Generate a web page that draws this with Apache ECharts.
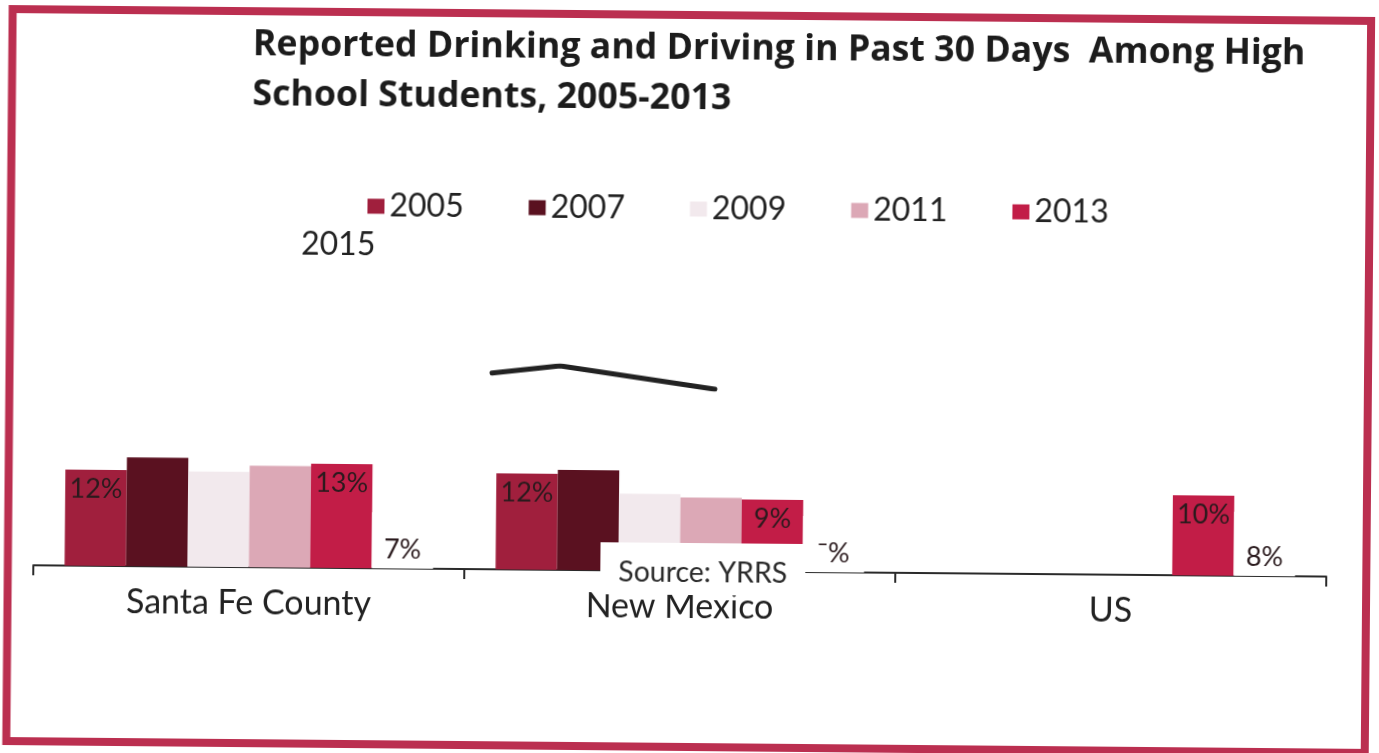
<!DOCTYPE html>
<html>
<head>
<meta charset="utf-8">
<script src="https://cdn.jsdelivr.net/npm/echarts@6/dist/echarts.min.js"></script>
<style>
  html, body { margin: 0; padding: 0; background: #ffffff; overflow: hidden; }
  #chart { width: 1379px; height: 753px; transform: rotate(0.5deg); transform-origin: 50% 50%; }
</style>
</head>
<body>
<div id="chart"></div>
<script>
// Regions on the category axis
const categories = ['Santa Fe County', 'New Mexico', 'US'];
// Survey years shown as series
const years = ['2005', '2007', '2009', '2011', '2013', '2015'];

// Percent of high school students reporting drinking and driving (past 30 days)
const v2005 = [12, 12, null];
const v2007 = [13.6, 12.5, null];
const v2009 = [11.9, 9.6, null];
const v2011 = [12.7, 9.2, null];
const v2013 = [13, 9, 10];
const v2015 = [7, 7, 8];
const labels2015 = ['7%', '¯%', '8%'];

// Hand-drawn stroke across the plot (unit coordinates inside its own box)
const strokeData = [[0, 0.65], [0.305, 1], [1, 0]];

const colors = {
  '2005': '#a01f3d',
  '2007': '#5a1120',
  '2009': '#f2e9ed',
  '2011': '#dca8b6',
  '2013': '#c21d47',
  '2015': '#ffffff'
};

const FONT = 'Lato';
const labelStyle = {
  fontFamily: FONT,
  fontSize: 27,
  color: '#2a1a1d'
};

function barSeries(name, data, label) {
  return {
    name: name,
    type: 'bar',
    xAxisIndex: 0,
    yAxisIndex: 0,
    data: data,
    barGap: '0%',
    barCategoryGap: '14.5%',
    itemStyle: { color: colors[name] },
    label: label || { show: false },
    emphasis: { disabled: true }
  };
}

const topLabel = Object.assign({
  show: true,
  position: 'insideTop',
  distance: 6,
  formatter: p => p.value + '%'
}, labelStyle);

const bottomLabel = Object.assign({
  show: true,
  position: 'insideBottom',
  distance: 5,
  formatter: p => labels2015[p.dataIndex]
}, labelStyle);

const chart = echarts.init(document.getElementById('chart'), null, { renderer: 'canvas' });

chart.setOption({
  animation: false,
  backgroundColor: '#ffffff',
  textStyle: { fontFamily: FONT },
  title: [
    {
      text: 'Reported Drinking and Driving in Past 30 Days  Among High\nSchool Students, 2005-2013',
      left: 250,
      top: 24,
      padding: 0,
      textStyle: {
        fontFamily: 'Open Sans',
        fontWeight: 'bold',
        fontSize: 35.7,
        lineHeight: 50,
        color: '#1c1c1c'
      }
    },
    {
      text: 'Source: YRRS',
      left: 602,
      top: 543,
      padding: [14, 18, 7, 18],
      backgroundColor: '#ffffff',
      textStyle: {
        fontFamily: FONT,
        fontWeight: 'normal',
        fontSize: 28.5,
        lineHeight: 31,
        color: '#2a2a2a'
      }
    }
  ],
  legend: [
    {
      data: years.slice(0, 5),
      left: 361,
      top: 188,
      itemWidth: 17,
      itemHeight: 15,
      itemGap: 65,
      icon: 'rect',
      selectedMode: false,
      textStyle: { fontFamily: FONT, fontSize: 32, color: '#222' }
    },
    {
      data: ['2015'],
      left: 273,
      top: 227,
      itemWidth: 17,
      itemHeight: 15,
      icon: 'rect',
      selectedMode: false,
      textStyle: { fontFamily: FONT, fontSize: 32, color: '#222' }
    }
  ],
  graphic: [
    {
      type: 'rect',
      shape: { x: 9.5, y: 15, width: 1358.5, height: 732 },
      style: { fill: 'none', stroke: '#bb2f50', lineWidth: 8 },
      silent: true,
      z: 100
    }
  ],
  grid: [
    { left: 35, right: 51, top: 171, bottom: 182, containLabel: false },
    { left: 492, top: 367, width: 223, height: 22 }
  ],
  xAxis: [
    {
      type: 'category',
      gridIndex: 0,
      data: categories,
      axisLine: { show: true, lineStyle: { color: '#2a2a2a', width: 2 } },
      axisTick: { show: true, length: 10, lineStyle: { color: '#2a2a2a', width: 2 } },
      axisLabel: { fontFamily: FONT, fontSize: 34, color: '#222', margin: 19 }
    },
    { type: 'value', gridIndex: 1, min: 0, max: 1, show: false }
  ],
  yAxis: [
    { type: 'value', gridIndex: 0, min: 0, max: 50, show: false, splitLine: { show: false } },
    { type: 'value', gridIndex: 1, min: 0, max: 1, show: false }
  ],
  series: [
    barSeries('2005', v2005, topLabel),
    barSeries('2007', v2007),
    barSeries('2009', v2009),
    barSeries('2011', v2011),
    barSeries('2013', v2013, topLabel),
    barSeries('2015', v2015, bottomLabel),
    {
      type: 'line',
      xAxisIndex: 1,
      yAxisIndex: 1,
      data: strokeData,
      symbol: 'none',
      lineStyle: { color: '#222', width: 5, cap: 'round', join: 'round' },
      silent: true,
      z: 5
    }
  ]
});
</script>
</body>
</html>
